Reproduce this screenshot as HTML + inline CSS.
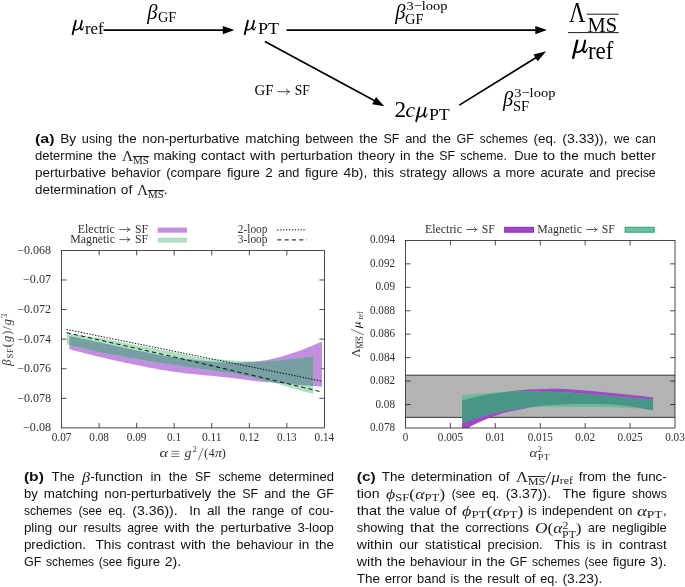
<!DOCTYPE html>
<html>
<head>
<meta charset="utf-8">
<title>Figure</title>
<style>
html,body{margin:0;padding:0;background:#ffffff;}
body{width:685px;height:587px;position:relative;overflow:hidden;font-family:"Liberation Sans",sans-serif;color:#000;}
svg{position:absolute;left:0;top:0;will-change:transform;}
#caps{position:absolute;left:0;top:0;width:685px;height:587px;will-change:transform;}
svg text{font-family:"Liberation Serif",serif;}
svg #captext text{font-family:"Liberation Sans",sans-serif;}
.it{font-style:italic;}
.mw{position:absolute;display:block;white-space:nowrap;text-align:left;height:17px;line-height:17px;}
.mi{display:inline-block;transform-origin:0 50%;font-family:"Liberation Serif",serif;font-size:14px;white-space:nowrap;color:#222;}
.mi i{font-style:italic;}
.sub{font-size:10px;position:relative;top:2.2px;}
.sub2{font-size:9.5px;position:relative;top:4.7px;}
.sl{font-size:17px;position:relative;top:1.2px;margin:0 0.3px;}
.sup{font-size:9.5px;position:relative;top:-4.3px;}
.ovb{display:inline-block;position:relative;top:3.3px;}
.ovb::before{content:"";position:absolute;left:0;right:-0.5px;top:3.5px;border-top:0.7px solid #222;}
</style>
</head>
<body>

<svg id="fig" width="685" height="587" viewBox="0 0 685 587">
<defs>
<clipPath id="clipL"><rect x="61.5" y="250.4" width="262.9" height="177.5"/></clipPath>
<clipPath id="clipR"><rect x="405.5" y="240.4" width="269.5" height="187.6"/></clipPath>
<g id="mu" fill="none" stroke="#000" stroke-linecap="round" stroke-linejoin="round">
 <path d="M3.9,-9.0 L0.6,4.7" stroke-width="1.9"/>
 <path d="M2.1,-1.6 C2.3,1.2 6.3,1.3 8.7,-3.2" stroke-width="1.2"/>
 <path d="M10.2,-9.0 L8.75,-2.6 C8.3,-0.3 9.4,0.4 10.3,-0.1" stroke-width="1.7"/>
 <path d="M10.3,-0.1 C11.1,-0.6 11.6,-1.6 11.9,-2.6" stroke-width="0.9"/>
</g>
<g id="arr" fill="none" stroke="#222" stroke-width="0.75" stroke-linecap="round" stroke-linejoin="round">
 <path d="M0,0 L11,0 M8.2,-2.3 C8.8,-1 9.8,-0.3 11,0 C9.8,0.3 8.8,1 8.2,2.3"/>
</g>
<clipPath id="cpL"><use href="#pLp"/></clipPath>
<clipPath id="cpR"><use href="#pRp"/></clipPath>
</defs>

<!-- ================= TOP DIAGRAM ================= -->
<g id="diagram" fill="#000" stroke="none">
  <!-- mu_ref -->
  <use href="#mu" transform="translate(72,29.6) scale(0.98)"/>
  <text x="85" y="33.7" font-size="16.3px" textLength="18.6" lengthAdjust="spacingAndGlyphs">ref</text>
  <!-- arrow 1 -->
  <line x1="103.5" y1="30.1" x2="226" y2="30.1" stroke="#000" stroke-width="1.7"/>
  <polygon points="234.4,30.1 222.8,26 222.8,34.2"/>
  <!-- beta_GF -->
  <text x="147.2" y="18.8" font-size="20.5px" class="it">β</text>
  <text x="158" y="21.7" font-size="14px" textLength="18.3" lengthAdjust="spacingAndGlyphs">GF</text>
  <!-- mu_PT -->
  <use href="#mu" transform="translate(244.1,29.6) scale(0.98)"/>
  <text x="258" y="33.6" font-size="16.3px" textLength="21.2" lengthAdjust="spacingAndGlyphs">PT</text>
  <!-- arrow 2 -->
  <line x1="286.6" y1="30.1" x2="538" y2="30.1" stroke="#000" stroke-width="1.7"/>
  <polygon points="546.9,30.1 535.3,26 535.3,34.2"/>
  <!-- beta_GF^3-loop -->
  <text x="395.2" y="18.8" font-size="20.5px" class="it">β</text>
  <text x="405.1" y="23.6" font-size="14px" textLength="18.5" lengthAdjust="spacingAndGlyphs">GF</text>
  <text x="406.4" y="9.7" font-size="13.2px" textLength="41.2" lengthAdjust="spacingAndGlyphs">3−loop</text>
  <!-- diagonal arrow down -->
  <line x1="264.9" y1="41.4" x2="377" y2="102.1" stroke="#000" stroke-width="1.7"/>
  <polygon points="384.3,106.2 372.15,104.29 376.05,97.07"/>
  <!-- GF -> SF -->
  <text x="254.5" y="95.2" font-size="14.2px" textLength="18.9" lengthAdjust="spacingAndGlyphs">GF</text>
  <use href="#arr" transform="translate(278,91.7) scale(1.04,1.15)"/>
  <text x="294.8" y="95.2" font-size="14.2px" textLength="15" lengthAdjust="spacingAndGlyphs">SF</text>
  <!-- 2c mu_PT -->
  <text x="394.4" y="116.7" font-size="23.2px">2</text>
  <text x="405.6" y="116.5" font-size="21.5px" class="it">c</text>
  <use href="#mu" transform="translate(415.6,116.6) scale(0.98)"/>
  <text x="428.9" y="120.2" font-size="16.3px" textLength="20.9" lengthAdjust="spacingAndGlyphs">PT</text>
  <!-- diagonal arrow up -->
  <line x1="459.3" y1="105.1" x2="539" y2="55.7" stroke="#000" stroke-width="1.7"/>
  <polygon points="546.2,51.2 537.7,61.2 533.5,54.4"/>
  <!-- beta_SF^3-loop -->
  <text x="503" y="106" font-size="20.5px" class="it">β</text>
  <text x="512.9" y="110.8" font-size="14px" textLength="16.3" lengthAdjust="spacingAndGlyphs">SF</text>
  <text x="514.2" y="96.9" font-size="13.2px" textLength="41.2" lengthAdjust="spacingAndGlyphs">3−loop</text>
  <!-- fraction -->
  <text transform="translate(569.0,22.3) scale(0.81,1.07)" font-size="28px">Λ</text>
  <text x="587.6" y="31.7" font-size="22px" textLength="29.6" lengthAdjust="spacingAndGlyphs">MS</text>
  <line x1="586.5" y1="14.2" x2="618.7" y2="14.2" stroke="#000" stroke-width="0.9"/>
  <line x1="568.1" y1="32.6" x2="618.7" y2="32.6" stroke="#000" stroke-width="0.9"/>
  <use href="#mu" transform="translate(572.4,51.9) scale(1.25)"/>
  <text x="587.9" y="59.4" font-size="25px" textLength="25.4" lengthAdjust="spacingAndGlyphs">ref</text>
</g>

<!-- ================= LEFT CHART ================= -->
<g id="chartL">
  <g clip-path="url(#clipL)">
    <defs><path id="pLp" d="M69.4,335.9 C74.5,336.98 88.23,339.88 100,342.4 C111.77,344.92 128.33,348.6 140,351 C151.67,353.4 160,355.2 170,356.8 C180,358.4 191.67,359.68 200,360.6 C208.33,361.52 214.17,361.92 220,362.3 C225.83,362.68 229.67,362.98 235,362.9 C240.33,362.82 246.83,362.23 252,361.8 C257.17,361.37 262.2,360.88 266,360.3 C269.8,359.72 271.88,359.03 274.8,358.3 C277.72,357.57 280.58,356.73 283.5,355.9 C286.42,355.07 289.38,354.23 292.3,353.3 C295.22,352.37 298.08,351.38 301,350.3 C303.92,349.22 306.88,348 309.8,346.8 C312.72,345.6 316.47,343.95 318.5,343.1 C320.53,342.25 321.42,341.93 322,341.7 L322,386.5 C320.52,386.42 318.05,386.37 313.1,386 C308.15,385.63 298.68,384.85 292.3,384.3 C285.92,383.75 281.5,383.28 274.8,382.7 C268.1,382.12 259.57,381.62 252.1,380.8 C244.63,379.98 238.68,378.8 230,377.8 C221.32,376.8 210,375.9 200,374.8 C190,373.7 180,372.7 170,371.2 C160,369.7 151.67,368.17 140,365.8 C128.33,363.43 111.77,359.77 100,357 C88.23,354.23 74.5,350.5 69.4,349.2 Z"/><path id="gLp" d="M66.9,333 C69.42,333.4 76.48,334.58 82,335.4 C87.52,336.22 90.33,336.17 100,337.9 C109.67,339.63 128.33,343.52 140,345.8 C151.67,348.08 160,349.67 170,351.6 C180,353.53 190,355.97 200,357.4 C210,358.83 221.33,359.48 230,360.2 C238.67,360.92 246,361.53 252,361.7 C258,361.87 260.75,361.53 266,361.2 C271.25,360.87 277.67,360.28 283.5,359.7 C289.33,359.12 296.03,358.28 301,357.7 C305.97,357.12 311.25,356.45 313.3,356.2 L313.3,393.9 C309.8,392.95 298.72,390.03 292.3,388.2 C285.88,386.37 281.5,384.68 274.8,382.9 C268.1,381.12 259.57,379.13 252.1,377.5 C244.63,375.87 238.68,374.57 230,373.1 C221.32,371.63 210,370.12 200,368.7 C190,367.28 180,366.13 170,364.6 C160,363.07 151.67,361.57 140,359.5 C128.33,357.43 112.18,354.68 100,352.2 C87.82,349.72 72.42,345.87 66.9,344.6 Z"/></defs>
    <use href="#pLp" fill="rgb(196,141,224)"/>
    <use href="#gLp" fill="rgb(174,224,196)"/>
    <g clip-path="url(#cpL)"><use href="#gLp" fill="rgb(118,158,163)"/></g>
    <!-- 2-loop dotted -->
    <line x1="66.6" y1="329.5" x2="322" y2="381.2" stroke="#000" stroke-width="0.95" stroke-dasharray="1.4,1.5"/>
    <!-- 3-loop dashed -->
    <path d="M66.6,332.7 Q194.3,361 322,392" fill="none" stroke="#000" stroke-width="0.95" stroke-dasharray="4.1,3.2"/>
  </g>
  <!-- frame -->
  <rect x="61.55" y="250.4" width="262.85" height="177.5" fill="none" stroke="#111" stroke-width="0.75"/>
  <g id="ticksL" stroke="#111" stroke-width="0.75">
<line x1="99.1" y1="427.9" x2="99.1" y2="422.9"/>
<line x1="99.1" y1="250.4" x2="99.1" y2="255.4"/>
<line x1="136.65" y1="427.9" x2="136.65" y2="422.9"/>
<line x1="136.65" y1="250.4" x2="136.65" y2="255.4"/>
<line x1="174.2" y1="427.9" x2="174.2" y2="422.9"/>
<line x1="174.2" y1="250.4" x2="174.2" y2="255.4"/>
<line x1="211.75" y1="427.9" x2="211.75" y2="422.9"/>
<line x1="211.75" y1="250.4" x2="211.75" y2="255.4"/>
<line x1="249.3" y1="427.9" x2="249.3" y2="422.9"/>
<line x1="249.3" y1="250.4" x2="249.3" y2="255.4"/>
<line x1="286.85" y1="427.9" x2="286.85" y2="422.9"/>
<line x1="286.85" y1="250.4" x2="286.85" y2="255.4"/>
<line x1="61.55" y1="279.98" x2="66.55" y2="279.98"/>
<line x1="324.4" y1="279.98" x2="319.4" y2="279.98"/>
<line x1="61.55" y1="309.57" x2="66.55" y2="309.57"/>
<line x1="324.4" y1="309.57" x2="319.4" y2="309.57"/>
<line x1="61.55" y1="339.15" x2="66.55" y2="339.15"/>
<line x1="324.4" y1="339.15" x2="319.4" y2="339.15"/>
<line x1="61.55" y1="368.73" x2="66.55" y2="368.73"/>
<line x1="319.4" y1="368.73" x2="322" y2="368.73" stroke-opacity="0.3"/>
<line x1="322" y1="368.73" x2="324.4" y2="368.73"/>
<line x1="61.55" y1="398.32" x2="66.55" y2="398.32"/>
<line x1="324.4" y1="398.32" x2="319.4" y2="398.32"/>
</g>
  <g id="labelsL" fill="#303030" font-size="11.5px">
<text x="61.55" y="440.9" text-anchor="middle" textLength="19.7" lengthAdjust="spacingAndGlyphs">0.07</text>
<text x="99.1" y="440.9" text-anchor="middle" textLength="19.7" lengthAdjust="spacingAndGlyphs">0.08</text>
<text x="136.65" y="440.9" text-anchor="middle" textLength="19.7" lengthAdjust="spacingAndGlyphs">0.09</text>
<text x="174.2" y="440.9" text-anchor="middle" textLength="14.2" lengthAdjust="spacingAndGlyphs">0.1</text>
<text x="211.75" y="440.9" text-anchor="middle" textLength="19.7" lengthAdjust="spacingAndGlyphs">0.11</text>
<text x="249.3" y="440.9" text-anchor="middle" textLength="19.7" lengthAdjust="spacingAndGlyphs">0.12</text>
<text x="286.85" y="440.9" text-anchor="middle" textLength="19.7" lengthAdjust="spacingAndGlyphs">0.13</text>
<text x="324.4" y="440.9" text-anchor="middle" textLength="19.7" lengthAdjust="spacingAndGlyphs">0.14</text>
<text x="51.1" y="253.9" text-anchor="end" textLength="33.8" lengthAdjust="spacingAndGlyphs">−0.068</text>
<text x="51.1" y="283.48" text-anchor="end" textLength="28.1" lengthAdjust="spacingAndGlyphs">−0.07</text>
<text x="51.1" y="313.07" text-anchor="end" textLength="33.8" lengthAdjust="spacingAndGlyphs">−0.072</text>
<text x="51.1" y="342.65" text-anchor="end" textLength="33.8" lengthAdjust="spacingAndGlyphs">−0.074</text>
<text x="51.1" y="372.23" text-anchor="end" textLength="33.8" lengthAdjust="spacingAndGlyphs">−0.076</text>
<text x="51.1" y="401.82" text-anchor="end" textLength="33.8" lengthAdjust="spacingAndGlyphs">−0.078</text>
<text x="51.1" y="431.4" text-anchor="end" textLength="28.1" lengthAdjust="spacingAndGlyphs">−0.08</text>
</g>
  <!-- legend -->
  <g fill="#303030" font-size="11.5px">
    <text x="77.7" y="232.7" textLength="37.2" lengthAdjust="spacingAndGlyphs">Electric</text>
    <use href="#arr" transform="translate(119.7,229.5) scale(0.93)"/>
    <text x="134.9" y="232.7" textLength="13.1" lengthAdjust="spacingAndGlyphs">SF</text>
    <text x="70.3" y="242.6" textLength="44.6" lengthAdjust="spacingAndGlyphs">Magnetic</text>
    <use href="#arr" transform="translate(119.7,239.6) scale(0.93)"/>
    <text x="134.9" y="242.6" textLength="13.1" lengthAdjust="spacingAndGlyphs">SF</text>
    <text x="267.4" y="232.7" text-anchor="end" textLength="29.6" lengthAdjust="spacingAndGlyphs">2-loop</text>
    <text x="267.4" y="242.6" text-anchor="end" textLength="29.6" lengthAdjust="spacingAndGlyphs">3-loop</text>
  </g>
  <rect x="157.7" y="227.6" width="29.4" height="5.1" fill="rgb(196,141,224)"/>
  <rect x="157.7" y="237.6" width="29.4" height="5.1" fill="rgb(174,224,196)"/>
  <line x1="277.3" y1="229.9" x2="306.5" y2="229.9" stroke="#000" stroke-width="1" stroke-dasharray="1.3,1.6"/>
  <line x1="277.3" y1="239.9" x2="307" y2="239.9" stroke="#000" stroke-width="1" stroke-dasharray="4.1,3.2"/>
  <!-- axis labels -->
  <g fill="#333">
    <g font-size="12.4px">
      <text x="159.6" y="457.1" class="it" textLength="8.6" lengthAdjust="spacingAndGlyphs">α</text>
      <path d="M171.3,451.3 H179.3 M171.3,453.9 H179.3 M171.3,456.5 H179.3" stroke="#333" stroke-width="0.65" fill="none"/>
      <text x="184.6" y="457.1" class="it" textLength="7" lengthAdjust="spacingAndGlyphs">g</text>
      <text x="192.5" y="452.2" font-size="8.5px">2</text>
      <line x1="198.3" y1="460.2" x2="203.2" y2="447.8" stroke="#333" stroke-width="0.7"/>
      <text x="204" y="457.1" textLength="4.4" lengthAdjust="spacingAndGlyphs">(</text>
      <text x="208.6" y="457.1">4</text>
      <text x="214.9" y="457.1" class="it" textLength="7" lengthAdjust="spacingAndGlyphs">π</text>
      <text x="221.6" y="457.1" textLength="4.4" lengthAdjust="spacingAndGlyphs">)</text>
    </g>
    <g transform="translate(10.5,365.8) rotate(-90)">
      <text x="0" y="0" font-size="12.5px" textLength="52" lengthAdjust="spacing"><tspan class="it">β</tspan><tspan dy="2.6" font-size="8.5px">SF</tspan><tspan dy="-2.6">(</tspan><tspan class="it">g</tspan>)/<tspan class="it">g</tspan><tspan dy="-4" font-size="8.5px">3</tspan></text>
    </g>
  </g>
</g>

<!-- ================= RIGHT CHART ================= -->
<g id="chartR">
  <g clip-path="url(#clipR)">
    <rect x="405.5" y="375.2" width="269.5" height="42.2" fill="#b3b3b3"/>
    <line x1="405.5" y1="375.2" x2="675" y2="375.2" stroke="#222" stroke-width="0.9"/>
    <line x1="405.5" y1="417.4" x2="675" y2="417.4" stroke="#222" stroke-width="0.9"/>
    <defs><path id="pRp" d="M462,400.3 C464.67,399.65 473,397.48 478,396.4 C483,395.32 487.08,394.58 492,393.8 C496.92,393.02 501.43,392.42 507.5,391.7 C513.57,390.98 522,389.97 528.4,389.5 C534.8,389.03 540.07,388.98 545.9,388.9 C551.73,388.82 556.88,388.75 563.4,389 C569.92,389.25 576.4,389.7 585,390.4 C593.6,391.1 603.67,392.05 615,393.2 C626.33,394.35 646.67,396.62 653,397.3 L653,410 C651.83,409.87 648.43,409.57 646,409.2 C643.57,408.83 643.57,408.53 638.4,407.8 C633.23,407.07 624.73,405.43 615,404.8 C605.27,404.17 588.6,404.05 580,404 C571.4,403.95 569.08,404.25 563.4,404.5 C557.72,404.75 550.77,405.13 545.9,405.5 C541.03,405.87 539.35,405.85 534.2,406.7 C529.05,407.55 519.87,409.62 515,410.6 C510.13,411.58 509.38,411.33 505,412.6 C500.62,413.87 493.2,416.5 488.7,418.2 C484.2,419.9 481.28,421.23 478,422.8 C474.72,424.37 471.67,425.9 469,427.6 C466.33,429.3 463.17,432.1 462,433 Z"/><path id="gRp" d="M462,395.1 C465.83,394.8 477.42,393.85 485,393.3 C492.58,392.75 500.27,392.12 507.5,391.8 C514.73,391.48 522,391.42 528.4,391.4 C534.8,391.38 540.07,391.55 545.9,391.7 C551.73,391.85 556.88,391.95 563.4,392.3 C569.92,392.65 576.4,393.12 585,393.8 C593.6,394.48 603.67,395.48 615,396.4 C626.33,397.32 646.67,398.82 653,399.3 L653,410 C650.57,409.77 644.73,409.03 638.4,408.6 C632.07,408.17 623.9,407.65 615,407.4 C606.1,407.15 593.6,407.2 585,407.1 C576.4,407 569.92,406.85 563.4,406.8 C556.88,406.75 551.73,406.68 545.9,406.8 C540.07,406.92 533.55,407.07 528.4,407.5 C523.25,407.93 518.9,408.87 515,409.4 C511.1,409.93 509.17,409.93 505,410.7 C500.83,411.47 494.98,412.68 490,414 C485.02,415.32 479.77,417.08 475.1,418.6 C470.43,420.12 464.18,422.35 462,423.1 Z"/></defs>
    <use href="#pRp" fill="rgb(156,75,196)"/>
    <use href="#gRp" fill="rgb(111,184,153)"/>
    <g clip-path="url(#cpR)"><use href="#gRp" fill="rgb(72,150,136)"/></g>
  </g>
  <rect x="405.5" y="240.4" width="269.5" height="187.6" fill="none" stroke="#111" stroke-width="0.75"/>
  <g id="ticksR" stroke="#111" stroke-width="0.75">
<line x1="450.42" y1="428" x2="450.42" y2="423"/>
<line x1="450.42" y1="240.4" x2="450.42" y2="245.4"/>
<line x1="495.33" y1="428" x2="495.33" y2="423"/>
<line x1="495.33" y1="240.4" x2="495.33" y2="245.4"/>
<line x1="540.25" y1="428" x2="540.25" y2="423"/>
<line x1="540.25" y1="240.4" x2="540.25" y2="245.4"/>
<line x1="585.17" y1="428" x2="585.17" y2="423"/>
<line x1="585.17" y1="240.4" x2="585.17" y2="245.4"/>
<line x1="630.08" y1="428" x2="630.08" y2="423"/>
<line x1="630.08" y1="240.4" x2="630.08" y2="245.4"/>
<line x1="405.5" y1="263.85" x2="410.5" y2="263.85"/>
<line x1="675" y1="263.85" x2="670" y2="263.85"/>
<line x1="405.5" y1="287.3" x2="410.5" y2="287.3"/>
<line x1="675" y1="287.3" x2="670" y2="287.3"/>
<line x1="405.5" y1="310.75" x2="410.5" y2="310.75"/>
<line x1="675" y1="310.75" x2="670" y2="310.75"/>
<line x1="405.5" y1="334.2" x2="410.5" y2="334.2"/>
<line x1="675" y1="334.2" x2="670" y2="334.2"/>
<line x1="405.5" y1="357.65" x2="410.5" y2="357.65"/>
<line x1="675" y1="357.65" x2="670" y2="357.65"/>
<line x1="405.5" y1="381.1" x2="410.5" y2="381.1"/>
<line x1="675" y1="381.1" x2="670" y2="381.1"/>
<line x1="405.5" y1="404.55" x2="410.5" y2="404.55"/>
<line x1="675" y1="404.55" x2="670" y2="404.55"/>
</g>
  <g id="labelsR" fill="#303030" font-size="11.5px">
<text x="405.5" y="441.1" text-anchor="middle" textLength="5.5" lengthAdjust="spacingAndGlyphs">0</text>
<text x="450.42" y="441.1" text-anchor="middle" textLength="25.1" lengthAdjust="spacingAndGlyphs">0.005</text>
<text x="495.33" y="441.1" text-anchor="middle" textLength="19.7" lengthAdjust="spacingAndGlyphs">0.01</text>
<text x="540.25" y="441.1" text-anchor="middle" textLength="25.1" lengthAdjust="spacingAndGlyphs">0.015</text>
<text x="585.17" y="441.1" text-anchor="middle" textLength="19.7" lengthAdjust="spacingAndGlyphs">0.02</text>
<text x="630.08" y="441.1" text-anchor="middle" textLength="25.1" lengthAdjust="spacingAndGlyphs">0.025</text>
<text x="675" y="441.1" text-anchor="middle" textLength="19.7" lengthAdjust="spacingAndGlyphs">0.03</text>
<text x="395.1" y="243.4" text-anchor="end" textLength="25.1" lengthAdjust="spacingAndGlyphs">0.094</text>
<text x="395.1" y="266.85" text-anchor="end" textLength="25.1" lengthAdjust="spacingAndGlyphs">0.092</text>
<text x="395.1" y="290.3" text-anchor="end" textLength="19.7" lengthAdjust="spacingAndGlyphs">0.09</text>
<text x="395.1" y="313.75" text-anchor="end" textLength="25.1" lengthAdjust="spacingAndGlyphs">0.088</text>
<text x="395.1" y="337.2" text-anchor="end" textLength="25.1" lengthAdjust="spacingAndGlyphs">0.086</text>
<text x="395.1" y="360.65" text-anchor="end" textLength="25.1" lengthAdjust="spacingAndGlyphs">0.084</text>
<text x="395.1" y="384.1" text-anchor="end" textLength="25.1" lengthAdjust="spacingAndGlyphs">0.082</text>
<text x="395.1" y="407.55" text-anchor="end" textLength="19.7" lengthAdjust="spacingAndGlyphs">0.08</text>
<text x="395.1" y="431" text-anchor="end" textLength="25.1" lengthAdjust="spacingAndGlyphs">0.078</text>
</g>
  <!-- legend -->
  <g fill="#303030" font-size="11.5px">
    <text x="424.9" y="232.7" textLength="37.1" lengthAdjust="spacingAndGlyphs">Electric</text>
    <use href="#arr" transform="translate(466.6,229.5) scale(0.95)"/>
    <text x="481.8" y="232.7" textLength="13.1" lengthAdjust="spacingAndGlyphs">SF</text>
    <text x="537.3" y="232.7" textLength="44.6" lengthAdjust="spacingAndGlyphs">Magnetic</text>
    <use href="#arr" transform="translate(586.7,229.5) scale(0.95)"/>
    <text x="601.8" y="232.7" textLength="13.1" lengthAdjust="spacingAndGlyphs">SF</text>
  </g>
  <rect x="504.7" y="227.3" width="28.8" height="4.9" fill="#9a48c8" stroke="#8a2cb8" stroke-width="1"/>
  <rect x="625.1" y="227.3" width="29.1" height="4.9" fill="#6cc4a0" stroke="#2f9c78" stroke-width="1"/>
  <!-- axis labels -->
  <g fill="#333">
    <text x="529.5" y="456.9" font-size="11.8px" class="it" textLength="7.8" lengthAdjust="spacingAndGlyphs">α</text>
    <text x="537.8" y="451.8" font-size="8.3px">2</text>
    <text x="537.8" y="459.7" font-size="8.3px" textLength="12" lengthAdjust="spacingAndGlyphs">PT</text>
    <g transform="translate(360.4,357.5) rotate(-90)">
      <text x="0" y="0" font-size="12.5px">Λ</text>
      <text x="8.7" y="2.6" font-size="8.5px" textLength="12.6" lengthAdjust="spacingAndGlyphs">MS</text>
      <line x1="8.9" y1="-4.3" x2="21.6" y2="-4.3" stroke="#333" stroke-width="0.6"/>
      <line x1="22.6" y1="3.4" x2="28.2" y2="-9.2" stroke="#333" stroke-width="0.7"/>
      <use href="#mu" transform="translate(29.4,0) scale(0.52)"/>
      <text x="38.2" y="2.6" font-size="8.5px" textLength="7.9" lengthAdjust="spacingAndGlyphs">ref</text>
    </g>
  </g>
</g>
<g id="captext" fill="#111" font-size="13.4px" style="font-family:'Liberation Sans',sans-serif">
<text x="35" y="142.9" font-weight="bold" textLength="19.47" lengthAdjust="spacingAndGlyphs">(a)</text>
<text x="60.2" y="142.9" textLength="15.9" lengthAdjust="spacingAndGlyphs">By</text>
<text x="81.84" y="142.9" textLength="30.39" lengthAdjust="spacingAndGlyphs">using</text>
<text x="117.98" y="142.9" textLength="18.64" lengthAdjust="spacingAndGlyphs">the</text>
<text x="142.36" y="142.9" textLength="97.17" lengthAdjust="spacingAndGlyphs">non-perturbative</text>
<text x="245.27" y="142.9" textLength="54.32" lengthAdjust="spacingAndGlyphs">matching</text>
<text x="305.33" y="142.9" textLength="48.1" lengthAdjust="spacingAndGlyphs">between</text>
<text x="359.17" y="142.9" textLength="18.64" lengthAdjust="spacingAndGlyphs">the</text>
<text x="383.55" y="142.9" textLength="15.86" lengthAdjust="spacingAndGlyphs">SF</text>
<text x="405.15" y="142.9" textLength="21.35" lengthAdjust="spacingAndGlyphs">and</text>
<text x="432.23" y="142.9" textLength="18.64" lengthAdjust="spacingAndGlyphs">the</text>
<text x="456.61" y="142.9" textLength="17.43" lengthAdjust="spacingAndGlyphs">GF</text>
<text x="479.78" y="142.9" textLength="48.09" lengthAdjust="spacingAndGlyphs">schemes</text>
<text x="533.61" y="142.9" textLength="22.95" lengthAdjust="spacingAndGlyphs">(eq.</text>
<text x="562.3" y="142.9" textLength="45.43" lengthAdjust="spacingAndGlyphs">(3.33)),</text>
<text x="613.73" y="142.9" textLength="15.9" lengthAdjust="spacingAndGlyphs">we</text>
<text x="635.37" y="142.9" textLength="20.33" lengthAdjust="spacingAndGlyphs">can</text>
<text x="35" y="159.85" textLength="57.85" lengthAdjust="spacingAndGlyphs">determine</text>
<text x="97.89" y="159.85" textLength="18.64" lengthAdjust="spacingAndGlyphs">the</text>
<text x="153.52" y="159.85" textLength="42.57" lengthAdjust="spacingAndGlyphs">making</text>
<text x="201.14" y="159.85" textLength="43.83" lengthAdjust="spacingAndGlyphs">contact</text>
<text x="250.01" y="159.85" textLength="25.38" lengthAdjust="spacingAndGlyphs">with</text>
<text x="280.43" y="159.85" textLength="72.42" lengthAdjust="spacingAndGlyphs">perturbation</text>
<text x="357.9" y="159.85" textLength="37.01" lengthAdjust="spacingAndGlyphs">theory</text>
<text x="399.96" y="159.85" textLength="10.65" lengthAdjust="spacingAndGlyphs">in</text>
<text x="415.65" y="159.85" textLength="18.64" lengthAdjust="spacingAndGlyphs">the</text>
<text x="439.34" y="159.85" textLength="15.86" lengthAdjust="spacingAndGlyphs">SF</text>
<text x="460.25" y="159.85" textLength="46.61" lengthAdjust="spacingAndGlyphs">scheme.</text>
<text x="514.15" y="159.85" textLength="23.73" lengthAdjust="spacingAndGlyphs">Due</text>
<text x="542.93" y="159.85" textLength="12.14" lengthAdjust="spacingAndGlyphs">to</text>
<text x="560.11" y="159.85" textLength="18.64" lengthAdjust="spacingAndGlyphs">the</text>
<text x="583.8" y="159.85" textLength="32.04" lengthAdjust="spacingAndGlyphs">much</text>
<text x="620.88" y="159.85" textLength="34.82" lengthAdjust="spacingAndGlyphs">better</text>
<text x="35" y="176.8" textLength="70.85" lengthAdjust="spacingAndGlyphs">perturbative</text>
<text x="111.36" y="176.8" textLength="49.35" lengthAdjust="spacingAndGlyphs">behavior</text>
<text x="166.23" y="176.8" textLength="55.15" lengthAdjust="spacingAndGlyphs">(compare</text>
<text x="226.88" y="176.8" textLength="33.1" lengthAdjust="spacingAndGlyphs">figure</text>
<text x="269.01" y="176.8" text-anchor="middle">2</text>
<text x="278.05" y="176.8" textLength="21.35" lengthAdjust="spacingAndGlyphs">and</text>
<text x="304.91" y="176.8" textLength="33.1" lengthAdjust="spacingAndGlyphs">figure</text>
<text x="343.51" y="176.8" textLength="23.74" lengthAdjust="spacingAndGlyphs">4b),</text>
<text x="372.96" y="176.8" textLength="21.15" lengthAdjust="spacingAndGlyphs">this</text>
<text x="399.62" y="176.8" textLength="47" lengthAdjust="spacingAndGlyphs">strategy</text>
<text x="452.13" y="176.8" textLength="35.6" lengthAdjust="spacingAndGlyphs">allows</text>
<text x="496.63" y="176.8" text-anchor="middle">a</text>
<text x="505.53" y="176.8" textLength="29.34" lengthAdjust="spacingAndGlyphs">more</text>
<text x="540.38" y="176.8" textLength="43.28" lengthAdjust="spacingAndGlyphs">acurate</text>
<text x="589.17" y="176.8" textLength="21.35" lengthAdjust="spacingAndGlyphs">and</text>
<text x="616.03" y="176.8" textLength="39.67" lengthAdjust="spacingAndGlyphs">precise</text>
<text x="35" y="193.75" textLength="81.15" lengthAdjust="spacingAndGlyphs">determination</text>
<text x="120.85" y="193.75" textLength="11.36" lengthAdjust="spacingAndGlyphs">of</text>
<text x="165.77" y="193.75" text-anchor="middle">.</text>
<text x="23.9" y="480.6" font-weight="bold" textLength="19.98" lengthAdjust="spacingAndGlyphs">(b)</text>
<text x="51.48" y="480.6" textLength="23.15" lengthAdjust="spacingAndGlyphs">The</text>
<text x="90.24" y="480.6" textLength="52.64" lengthAdjust="spacingAndGlyphs">-function</text>
<text x="150.49" y="480.6" textLength="10.65" lengthAdjust="spacingAndGlyphs">in</text>
<text x="168.75" y="480.6" textLength="18.64" lengthAdjust="spacingAndGlyphs">the</text>
<text x="195" y="480.6" textLength="15.86" lengthAdjust="spacingAndGlyphs">SF</text>
<text x="218.47" y="480.6" textLength="42.69" lengthAdjust="spacingAndGlyphs">scheme</text>
<text x="268.77" y="480.6" textLength="65.13" lengthAdjust="spacingAndGlyphs">determined</text>
<text x="23.9" y="497.67" textLength="13.79" lengthAdjust="spacingAndGlyphs">by</text>
<text x="43.82" y="497.67" textLength="54.32" lengthAdjust="spacingAndGlyphs">matching</text>
<text x="104.27" y="497.67" textLength="107.04" lengthAdjust="spacingAndGlyphs">non-perturbatively</text>
<text x="217.45" y="497.67" textLength="18.64" lengthAdjust="spacingAndGlyphs">the</text>
<text x="242.22" y="497.67" textLength="15.86" lengthAdjust="spacingAndGlyphs">SF</text>
<text x="264.22" y="497.67" textLength="21.35" lengthAdjust="spacingAndGlyphs">and</text>
<text x="291.7" y="497.67" textLength="18.64" lengthAdjust="spacingAndGlyphs">the</text>
<text x="316.47" y="497.67" textLength="17.43" lengthAdjust="spacingAndGlyphs">GF</text>
<text x="23.9" y="514.74" textLength="48.09" lengthAdjust="spacingAndGlyphs">schemes</text>
<text x="78.47" y="514.74" textLength="23.42" lengthAdjust="spacingAndGlyphs">(see</text>
<text x="108.36" y="514.74" textLength="17.47" lengthAdjust="spacingAndGlyphs">eq.</text>
<text x="132.3" y="514.74" textLength="45.43" lengthAdjust="spacingAndGlyphs">(3.36)).</text>
<text x="189.32" y="514.74" textLength="11.2" lengthAdjust="spacingAndGlyphs">In</text>
<text x="207" y="514.74" textLength="13.51" lengthAdjust="spacingAndGlyphs">all</text>
<text x="226.98" y="514.74" textLength="18.64" lengthAdjust="spacingAndGlyphs">the</text>
<text x="252.1" y="514.74" textLength="32.2" lengthAdjust="spacingAndGlyphs">range</text>
<text x="290.77" y="514.74" textLength="11.36" lengthAdjust="spacingAndGlyphs">of</text>
<text x="308.6" y="514.74" textLength="25.3" lengthAdjust="spacingAndGlyphs">cou-</text>
<text x="23.9" y="531.81" textLength="28.36" lengthAdjust="spacingAndGlyphs">pling</text>
<text x="58.3" y="531.81" textLength="19.15" lengthAdjust="spacingAndGlyphs">our</text>
<text x="83.5" y="531.81" textLength="37.64" lengthAdjust="spacingAndGlyphs">results</text>
<text x="127.18" y="531.81" textLength="31.18" lengthAdjust="spacingAndGlyphs">agree</text>
<text x="164.39" y="531.81" textLength="25.38" lengthAdjust="spacingAndGlyphs">with</text>
<text x="195.82" y="531.81" textLength="18.64" lengthAdjust="spacingAndGlyphs">the</text>
<text x="220.5" y="531.81" textLength="70.85" lengthAdjust="spacingAndGlyphs">perturbative</text>
<text x="297.4" y="531.81" textLength="36.5" lengthAdjust="spacingAndGlyphs">3-loop</text>
<text x="23.9" y="548.88" textLength="62" lengthAdjust="spacingAndGlyphs">prediction.</text>
<text x="95.55" y="548.88" textLength="25.65" lengthAdjust="spacingAndGlyphs">This</text>
<text x="127.03" y="548.88" textLength="47.78" lengthAdjust="spacingAndGlyphs">contrast</text>
<text x="180.64" y="548.88" textLength="25.38" lengthAdjust="spacingAndGlyphs">with</text>
<text x="211.84" y="548.88" textLength="18.64" lengthAdjust="spacingAndGlyphs">the</text>
<text x="236.31" y="548.88" textLength="56.64" lengthAdjust="spacingAndGlyphs">behaviour</text>
<text x="298.78" y="548.88" textLength="10.65" lengthAdjust="spacingAndGlyphs">in</text>
<text x="315.26" y="548.88" textLength="18.64" lengthAdjust="spacingAndGlyphs">the</text>
<text x="23.9" y="565.95" textLength="17.43" lengthAdjust="spacingAndGlyphs">GF</text>
<text x="46.03" y="565.95" textLength="48.09" lengthAdjust="spacingAndGlyphs">schemes</text>
<text x="98.82" y="565.95" textLength="23.42" lengthAdjust="spacingAndGlyphs">(see</text>
<text x="126.94" y="565.95" textLength="33.1" lengthAdjust="spacingAndGlyphs">figure</text>
<text x="164.74" y="565.95" textLength="16.45" lengthAdjust="spacingAndGlyphs">2).</text>
<text x="356.8" y="480.6" font-weight="bold" textLength="18.96" lengthAdjust="spacingAndGlyphs">(c)</text>
<text x="381.83" y="480.6" textLength="23.15" lengthAdjust="spacingAndGlyphs">The</text>
<text x="411.05" y="480.6" textLength="81.15" lengthAdjust="spacingAndGlyphs">determination</text>
<text x="498.28" y="480.6" textLength="11.36" lengthAdjust="spacingAndGlyphs">of</text>
<text x="578.79" y="480.6" textLength="27.38" lengthAdjust="spacingAndGlyphs">from</text>
<text x="612.24" y="480.6" textLength="18.64" lengthAdjust="spacingAndGlyphs">the</text>
<text x="636.95" y="480.6" textLength="29.85" lengthAdjust="spacingAndGlyphs">func-</text>
<text x="356.8" y="497.67" textLength="22.8" lengthAdjust="spacingAndGlyphs">tion</text>
<text x="451.79" y="497.67" textLength="23.42" lengthAdjust="spacingAndGlyphs">(see</text>
<text x="481.71" y="497.67" textLength="17.47" lengthAdjust="spacingAndGlyphs">eq.</text>
<text x="505.68" y="497.67" textLength="45.43" lengthAdjust="spacingAndGlyphs">(3.37)).</text>
<text x="562.78" y="497.67" textLength="23.15" lengthAdjust="spacingAndGlyphs">The</text>
<text x="592.43" y="497.67" textLength="33.1" lengthAdjust="spacingAndGlyphs">figure</text>
<text x="632.02" y="497.67" textLength="34.78" lengthAdjust="spacingAndGlyphs">shows</text>
<text x="356.8" y="514.74" textLength="24.24" lengthAdjust="spacingAndGlyphs">that</text>
<text x="386.13" y="514.74" textLength="18.64" lengthAdjust="spacingAndGlyphs">the</text>
<text x="409.85" y="514.74" textLength="30.2" lengthAdjust="spacingAndGlyphs">value</text>
<text x="445.13" y="514.74" textLength="11.36" lengthAdjust="spacingAndGlyphs">of</text>
<text x="528.06" y="514.74" textLength="8.77" lengthAdjust="spacingAndGlyphs">is</text>
<text x="541.91" y="514.74" textLength="70.97" lengthAdjust="spacingAndGlyphs">independent</text>
<text x="617.97" y="514.74" textLength="14.34" lengthAdjust="spacingAndGlyphs">on</text>
<text x="664.84" y="514.74" text-anchor="middle">,</text>
<text x="356.8" y="531.81" textLength="47.08" lengthAdjust="spacingAndGlyphs">showing</text>
<text x="410.08" y="531.81" textLength="24.24" lengthAdjust="spacingAndGlyphs">that</text>
<text x="440.53" y="531.81" textLength="18.64" lengthAdjust="spacingAndGlyphs">the</text>
<text x="465.37" y="531.81" textLength="63.68" lengthAdjust="spacingAndGlyphs">corrections</text>
<text x="588.06" y="531.81" textLength="17.86" lengthAdjust="spacingAndGlyphs">are</text>
<text x="612.12" y="531.81" textLength="54.68" lengthAdjust="spacingAndGlyphs">negligible</text>
<text x="356.8" y="548.88" textLength="36.03" lengthAdjust="spacingAndGlyphs">within</text>
<text x="399.36" y="548.88" textLength="19.15" lengthAdjust="spacingAndGlyphs">our</text>
<text x="425.04" y="548.88" textLength="56.01" lengthAdjust="spacingAndGlyphs">statistical</text>
<text x="487.58" y="548.88" textLength="55.03" lengthAdjust="spacingAndGlyphs">precision.</text>
<text x="554.35" y="548.88" textLength="25.65" lengthAdjust="spacingAndGlyphs">This</text>
<text x="586.54" y="548.88" textLength="8.77" lengthAdjust="spacingAndGlyphs">is</text>
<text x="601.84" y="548.88" textLength="10.65" lengthAdjust="spacingAndGlyphs">in</text>
<text x="619.02" y="548.88" textLength="47.78" lengthAdjust="spacingAndGlyphs">contrast</text>
<text x="356.8" y="565.95" textLength="25.38" lengthAdjust="spacingAndGlyphs">with</text>
<text x="386.8" y="565.95" textLength="18.64" lengthAdjust="spacingAndGlyphs">the</text>
<text x="410.06" y="565.95" textLength="56.64" lengthAdjust="spacingAndGlyphs">behaviour</text>
<text x="471.31" y="565.95" textLength="10.65" lengthAdjust="spacingAndGlyphs">in</text>
<text x="486.58" y="565.95" textLength="18.64" lengthAdjust="spacingAndGlyphs">the</text>
<text x="509.84" y="565.95" textLength="17.43" lengthAdjust="spacingAndGlyphs">GF</text>
<text x="531.89" y="565.95" textLength="48.09" lengthAdjust="spacingAndGlyphs">schemes</text>
<text x="584.6" y="565.95" textLength="23.42" lengthAdjust="spacingAndGlyphs">(see</text>
<text x="612.64" y="565.95" textLength="33.1" lengthAdjust="spacingAndGlyphs">figure</text>
<text x="650.35" y="565.95" textLength="16.45" lengthAdjust="spacingAndGlyphs">3).</text>
<text x="356.8" y="583.02" textLength="23.15" lengthAdjust="spacingAndGlyphs">The</text>
<text x="384.65" y="583.02" textLength="27.77" lengthAdjust="spacingAndGlyphs">error</text>
<text x="417.12" y="583.02" textLength="28.63" lengthAdjust="spacingAndGlyphs">band</text>
<text x="450.45" y="583.02" textLength="8.77" lengthAdjust="spacingAndGlyphs">is</text>
<text x="463.92" y="583.02" textLength="18.64" lengthAdjust="spacingAndGlyphs">the</text>
<text x="487.26" y="583.02" textLength="32.23" lengthAdjust="spacingAndGlyphs">result</text>
<text x="524.2" y="583.02" textLength="11.36" lengthAdjust="spacingAndGlyphs">of</text>
<text x="540.26" y="583.02" textLength="17.47" lengthAdjust="spacingAndGlyphs">eq.</text>
<text x="562.42" y="583.02" textLength="39.95" lengthAdjust="spacingAndGlyphs">(3.23).</text>
</g>
</svg>

<!-- ================= CAPTIONS ================= -->
<div id="caps">
<span class="mw" style="left:121.58px;top:146.92px;width:26.9px"><span class="mi" id="m_LMS_1" style="transform:scaleX(1.0931)">Λ<span class="sub ovb">MS</span></span></span>
<span class="mw" style="left:136.91px;top:180.82px;width:26.9px"><span class="mi" id="m_LMS_2" style="transform:scaleX(1.0931)">Λ<span class="sub ovb">MS</span></span></span>
<span class="mw" style="left:82.24px;top:467.67px;width:8px"><span class="mi" id="m_BETA_3" style="transform:scaleX(1.1454)"><i>β</i></span></span>
<span class="mw" style="left:515.71px;top:467.67px;width:57px"><span class="mi" id="m_LMSMU_4" style="transform:scaleX(1.1856)">Λ<span class="sub ovb">MS</span><span class="sl">/</span><i>μ</i><span class="sub">ref</span></span></span>
<span class="mw" style="left:386.09px;top:484.74px;width:59.2px"><span class="mi" id="m_PHISF_5" style="transform:scaleX(1.2663)"><i>ϕ</i><span class="sub">SF</span>(<i>α</i><span class="sub">PT</span>)</span></span>
<span class="mw" style="left:461.57px;top:501.81px;width:61.4px"><span class="mi" id="m_PHIPT_6" style="transform:scaleX(1.2982)"><i>ϕ</i><span class="sub">PT</span>(<i>α</i><span class="sub">PT</span>)</span></span>
<span class="mw" style="left:637.38px;top:501.81px;width:25.5px"><span class="mi" id="m_APT_7" style="transform:scaleX(1.3399)"><i>α</i><span class="sub">PT</span></span></span>
<span class="mw" style="left:535.26px;top:518.88px;width:46.6px"><span class="mi" id="m_OAPT_8" style="transform:scaleX(1.2370)"><i>O</i>(<i>α</i><span class="sup">2</span><span class="sub2" style="margin-left:-5px">PT</span>)</span></span>
</div>
</body>
</html>
